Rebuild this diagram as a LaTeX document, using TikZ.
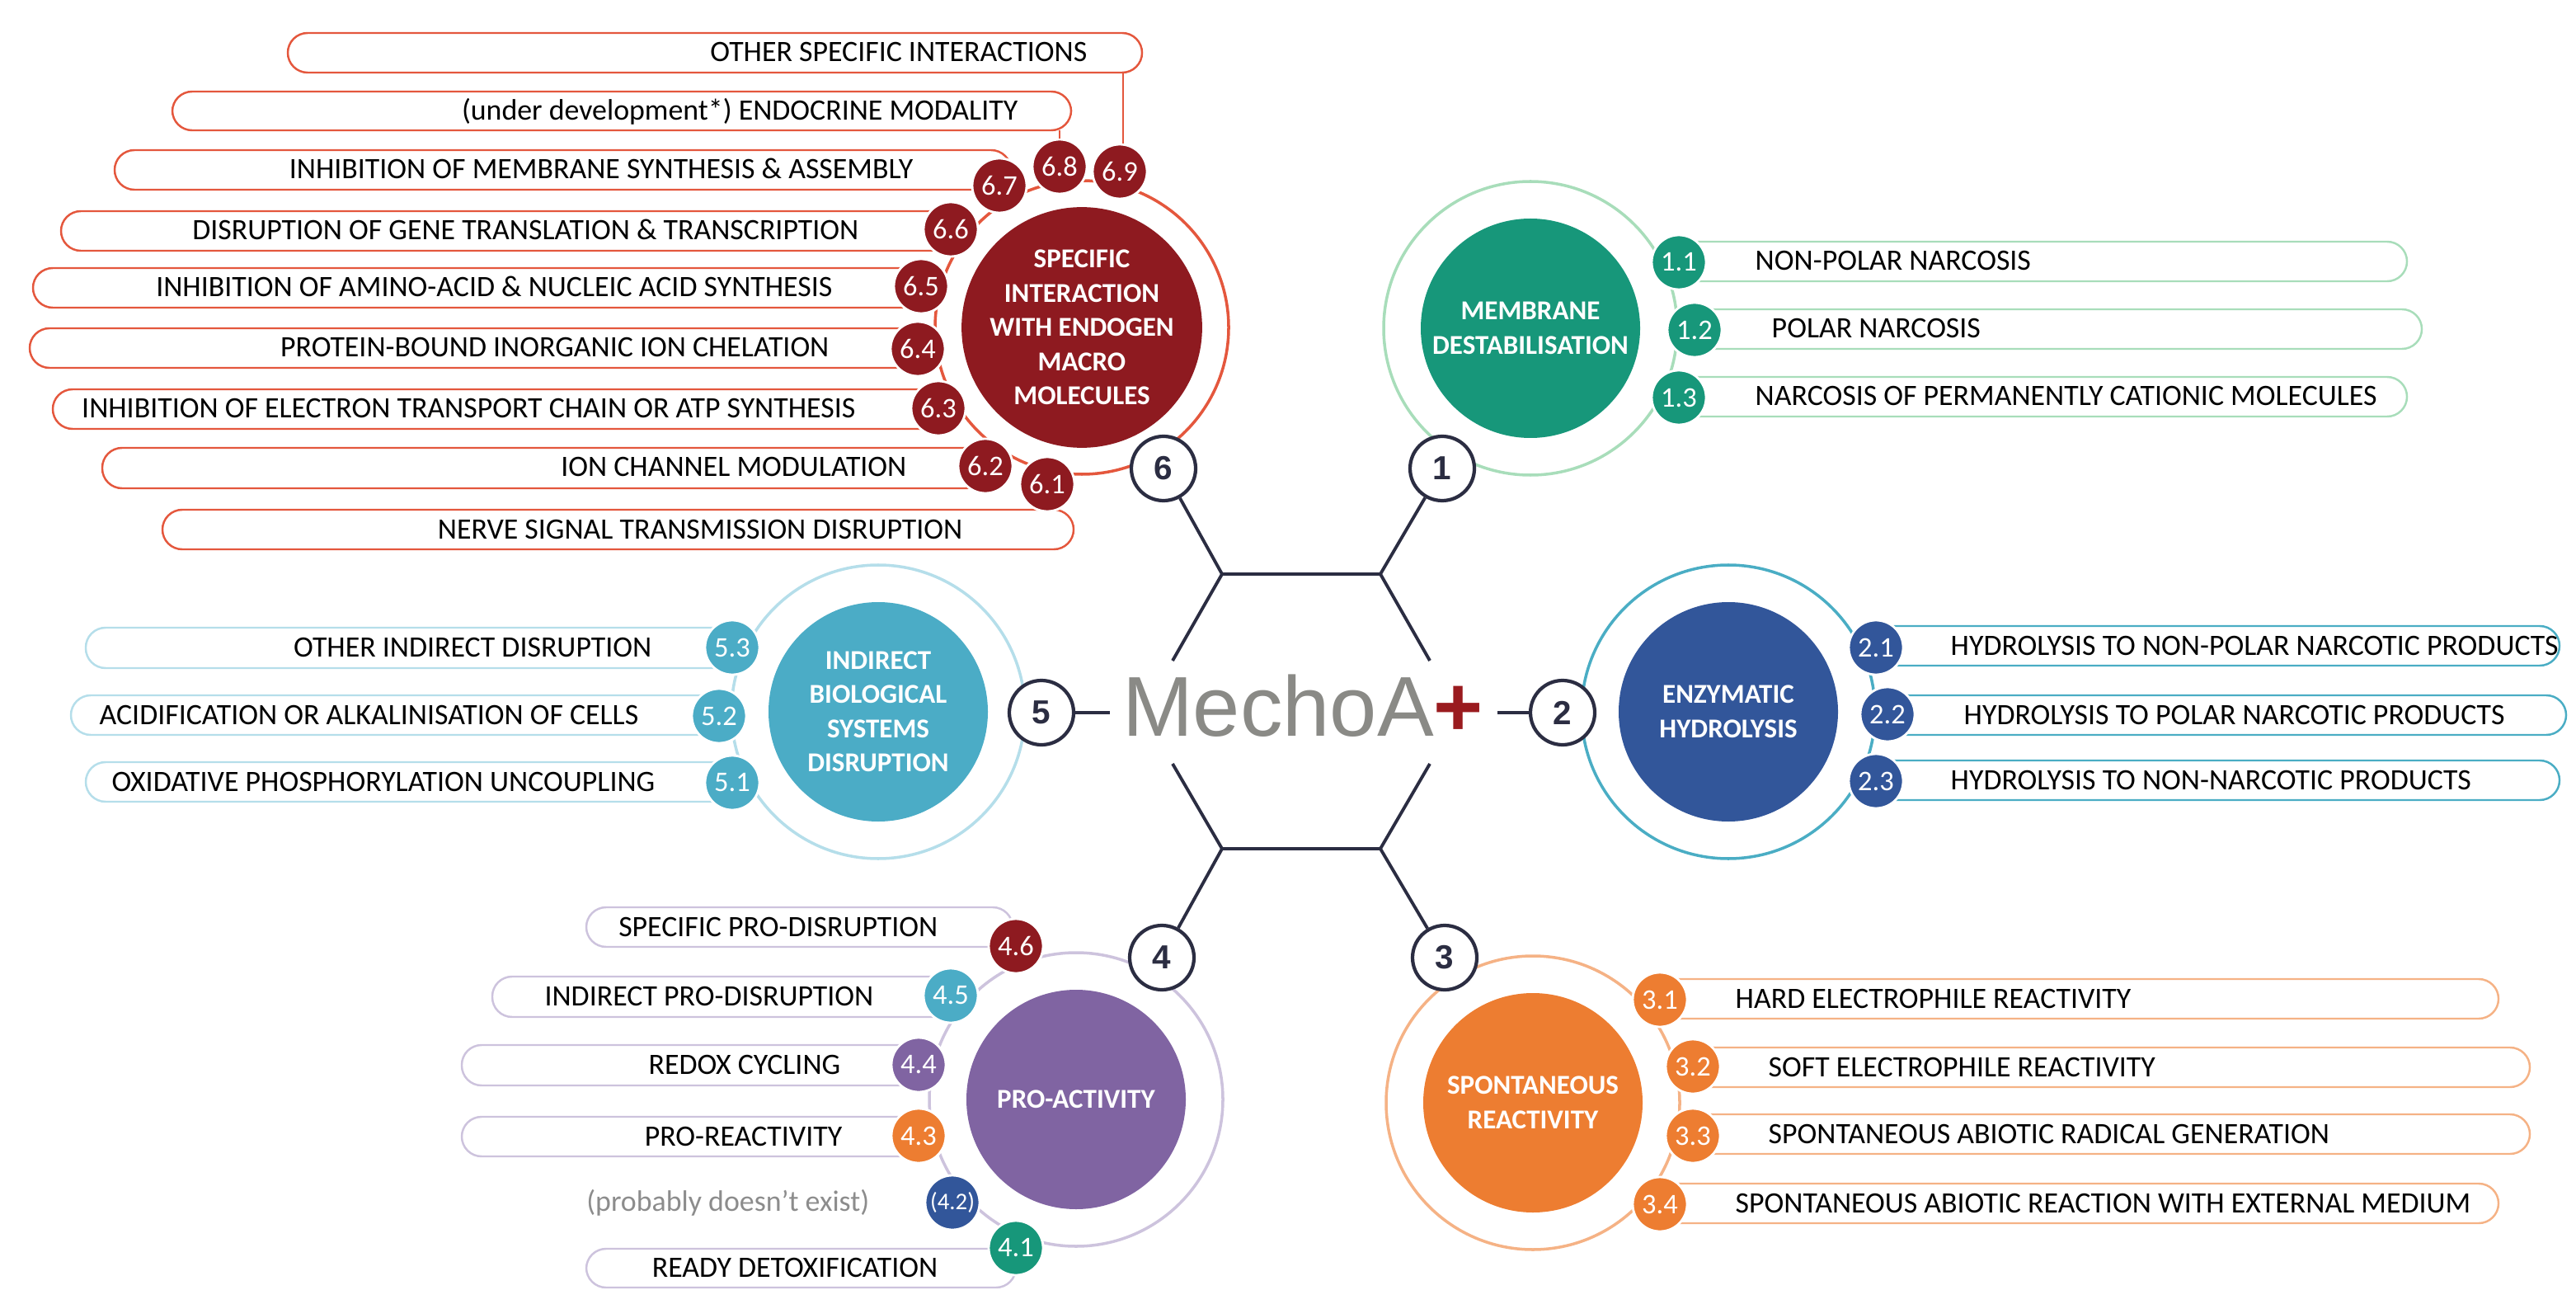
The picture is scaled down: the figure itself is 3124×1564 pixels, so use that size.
\documentclass[tikz,border=0pt]{standalone}
\usepackage{fontspec}
\setmainfont{Carlito}
\newfontfamily\logofont{Liberation Sans}

\definecolor{navy}{HTML}{2B2D42}
\definecolor{redA}{HTML}{8E1A20}
\definecolor{redR}{HTML}{E4573D}
\definecolor{grnA}{HTML}{17977A}
\definecolor{grnR}{HTML}{A8DDBA}
\definecolor{bluA}{HTML}{32569A}
\definecolor{bluR}{HTML}{4AADC4}
\definecolor{orA}{HTML}{ED7D31}
\definecolor{orR}{HTML}{F5B285}
\definecolor{puA}{HTML}{8064A2}
\definecolor{puR}{HTML}{CDC3DD}
\definecolor{tqA}{HTML}{4BACC6}
\definecolor{tqR}{HTML}{B5DEEA}
\definecolor{logogray}{HTML}{8A8A86}
\definecolor{logored}{HTML}{9A1B1F}

\begin{document}
\begin{tikzpicture}[x=0.1mm,y=-0.1mm,
    cat/.style={circle,minimum size=26.6mm,inner sep=0,text=white,align=center,
      font=\bfseries\fontsize{9.4}{11.8}\selectfont},
    ring/.style={line width=1pt},
    pill/.style={fill=white,rounded corners=2.4mm,line width=0.7pt},
    badge/.style={circle,minimum size=6.6mm,inner sep=0,draw=white,line width=0.8pt,
      text=white,font=\fontsize{9.8}{11}\selectfont},
    num/.style={circle,minimum size=7.8mm,inner sep=0,draw=navy,line width=1.2pt,
      fill=white,text=navy,font=\logofont\bfseries\fontsize{11.5}{12}\selectfont},
    lbl/.style={inner sep=0,font=\fontsize{10.2}{12}\selectfont},
    hub/.style={draw=navy,line width=1.1pt}]
    \useasboundingbox (0,0) rectangle (3124,1564);
    \def\pill#1#2#3#4#5{\draw[pill,draw=#1] (#2,#3) rectangle (#4,#5);}

    % centres of the six families
    \coordinate (o1) at (1856,398);
    \coordinate (o2) at (2096,863);
    \coordinate (o3) at (1859,1337);
    \coordinate (o4) at (1305,1333);
    \coordinate (o5) at (1065,863);
    \coordinate (o6) at (1312,397);
    \draw[ring,grnR] (o1) circle (17.8mm);
    \draw[ring,bluR] (o2) circle (17.8mm);
    \draw[ring,orR]  (o3) circle (17.8mm);
    \draw[ring,puR]  (o4) circle (17.8mm);
    \draw[ring,tqR]  (o5) circle (17.8mm);
    \draw[ring,redR] (o6) circle (17.8mm);

    % label pills
    \pill{grnR}{2036}{293}{2919}{341}
    \pill{grnR}{2055}{375}{2937}{423}
    \pill{grnR}{2036}{457}{2919}{505}
    \pill{bluR}{2275}{759}{3104}{807}
    \pill{bluR}{2289}{843}{3112}{891}
    \pill{bluR}{2275}{922}{3104}{970}
    \pill{orR}{2013}{1187}{3030}{1235}
    \pill{orR}{2053}{1270}{3068}{1318}
    \pill{orR}{2053}{1351}{3068}{1399}
    \pill{orR}{2013}{1435}{3030}{1483}
    \pill{tqR}{104}{761}{888}{810}
    \pill{tqR}{86}{843}{872}{891}
    \pill{tqR}{104}{924}{888}{972}
    \pill{redR}{349}{40}{1385}{88}
    \pill{redR}{209}{111}{1299}{158}
    \pill{redR}{139}{182}{1226}{230}
    \pill{redR}{74}{256}{1153}{304}
    \pill{redR}{40}{325}{1117}{373}
    \pill{redR}{36}{398}{1113}{446}
    \pill{redR}{64}{472}{1138}{520}
    \pill{redR}{124}{543}{1195}{592}
    \pill{redR}{197}{618}{1302}{666}
    \pill{puR}{711}{1100}{1228}{1148}
    \pill{puR}{597}{1184}{1153}{1233}
    \pill{puR}{560}{1267}{1114}{1316}
    \pill{puR}{560}{1354}{1114}{1402}
    \pill{puR}{711}{1514}{1232}{1561}

    % family discs
    \node[cat,fill=grnA] (c1) at (o1) {MEMBRANE\\DESTABILISATION};
    \node[cat,fill=bluA] (c2) at (o2) {ENZYMATIC\\HYDROLYSIS};
    \node[cat,fill=orA]  (c3) at (o3) {SPONTANEOUS\\REACTIVITY};
    \node[cat,fill=puA]  (c4) at (o4) {PRO-ACTIVITY};
    \node[cat,fill=tqA]  (c5) at (o5) {INDIRECT\\BIOLOGICAL\\SYSTEMS\\DISRUPTION};
    \node[cat,fill=redA] (c6) at (o6) {SPECIFIC\\INTERACTION\\WITH ENDOGEN\\MACRO\\MOLECULES};

    % numbered badges
    \node[badge,fill=grnA] (b11) at (2036,318) {1.1};
    \node[badge,fill=grnA] (b12) at (2055,400) {1.2};
    \node[badge,fill=grnA] (b13) at (2036,482) {1.3};
    \node[badge,fill=bluA] (b21) at (2275,785) {2.1};
    \node[badge,fill=bluA] (b22) at (2289,866) {2.2};
    \node[badge,fill=bluA] (b23) at (2275,947) {2.3};
    \node[badge,fill=orA] (b31) at (2013,1212) {3.1};
    \node[badge,fill=orA] (b32) at (2053,1293) {3.2};
    \node[badge,fill=orA] (b33) at (2053,1377) {3.3};
    \node[badge,fill=orA] (b34) at (2013,1460) {3.4};
    \node[badge,fill=redA] (b46) at (1232,1147) {4.6};
    \node[badge,fill=tqA]  (b45) at (1153,1207) {4.5};
    \node[badge,fill=puA]  (b44) at (1114,1291) {4.4};
    \node[badge,fill=orA]  (b43) at (1114,1377) {4.3};
    \node[badge,fill=bluA,font=\fontsize{8.2}{10}\selectfont] (b42) at (1155,1458) {(4.2)};
    \node[badge,fill=grnA] (b41) at (1232,1513) {4.1};
    \node[badge,fill=tqA] (b53) at (888,785) {5.3};
    \node[badge,fill=tqA] (b52) at (872,868) {5.2};
    \node[badge,fill=tqA] (b51) at (888,949) {5.1};
    \node[badge,fill=redA] (b61) at (1270,587) {6.1};
    \node[badge,fill=redA] (b62) at (1195,565) {6.2};
    \node[badge,fill=redA] (b63) at (1138,495) {6.3};
    \node[badge,fill=redA] (b64) at (1113,423) {6.4};
    \node[badge,fill=redA] (b65) at (1117,347) {6.5};
    \node[badge,fill=redA] (b66) at (1153,278) {6.6};
    \node[badge,fill=redA] (b67) at (1212,225) {6.7};
    \node[badge,fill=redA] (b68) at (1285,202) {6.8};
    \node[badge,fill=redA] (b69) at (1358,208) {6.9};
    \coordinate (k68) at (1285,158);
    \coordinate (k69) at (1362,88);
    \draw[redR,line width=0.6pt] (k68) -- (k68 |- b68.north);
    \draw[redR,line width=0.6pt] (k69) -- (k69 |- b69.north);

    % texts of the pills
    \node[lbl,anchor=base west] (t11) at (2128,328) {NON-POLAR NARCOSIS};
    \node[lbl,anchor=base west] (t12) at (2148,410) {POLAR NARCOSIS};
    \node[lbl,anchor=base west] (t13) at (2128,492) {NARCOSIS OF PERMANENTLY CATIONIC MOLECULES};
    \node[lbl,anchor=base west] (t21) at (2365,794) {HYDROLYSIS TO NON-POLAR NARCOTIC PRODUCTS};
    \node[lbl,anchor=base west] (t22) at (2381,878) {HYDROLYSIS TO POLAR NARCOTIC PRODUCTS};
    \node[lbl,anchor=base west] (t23) at (2365,957) {HYDROLYSIS TO NON-NARCOTIC PRODUCTS};
    \node[lbl,anchor=base west] (t31) at (2104,1222) {HARD ELECTROPHILE REACTIVITY};
    \node[lbl,anchor=base west] (t32) at (2144,1305) {SOFT ELECTROPHILE REACTIVITY};
    \node[lbl,anchor=base west] (t33) at (2144,1386) {SPONTANEOUS ABIOTIC RADICAL GENERATION};
    \node[lbl,anchor=base west] (t34) at (2104,1470) {SPONTANEOUS ABIOTIC REACTION WITH EXTERNAL MEDIUM};
    \node[lbl,anchor=base east] (t53) at (791,796) {OTHER INDIRECT DISRUPTION};
    \node[lbl,anchor=base east] (t52) at (775,878) {ACIDIFICATION OR ALKALINISATION OF CELLS};
    \node[lbl,anchor=base east] (t51) at (795,959) {OXIDATIVE PHOSPHORYLATION UNCOUPLING};
    \node[lbl,anchor=base east] (t69) at (1319,75) {OTHER SPECIFIC INTERACTIONS};
    \node[lbl,anchor=base east] (t68) at (1235,146) {(under development*) ENDOCRINE MODALITY};
    \node[lbl,anchor=base east] (t67) at (1108,217) {INHIBITION OF MEMBRANE SYNTHESIS \& ASSEMBLY};
    \node[lbl,anchor=base east] (t66) at (1042,291) {DISRUPTION OF GENE TRANSLATION \& TRANSCRIPTION};
    \node[lbl,anchor=base east] (t65) at (1010,360) {INHIBITION OF AMINO-ACID \& NUCLEIC ACID SYNTHESIS};
    \node[lbl,anchor=base east] (t64) at (1006,433) {PROTEIN-BOUND INORGANIC ION CHELATION};
    \node[lbl,anchor=base east] (t63) at (1038,507) {INHIBITION OF ELECTRON TRANSPORT CHAIN OR ATP SYNTHESIS};
    \node[lbl,anchor=base east] (t62) at (1100,578) {ION CHANNEL MODULATION};
    \node[lbl,anchor=base east] (t61) at (1168,653) {NERVE SIGNAL TRANSMISSION DISRUPTION};
    \node[lbl,anchor=base east] (t46) at (1138,1135) {SPECIFIC PRO-DISRUPTION};
    \node[lbl,anchor=base east] (t45) at (1060,1219) {INDIRECT PRO-DISRUPTION};
    \node[lbl,anchor=base east] (t44) at (1020,1302) {REDOX CYCLING};
    \node[lbl,anchor=base east] (t43) at (1022,1389) {PRO-REACTIVITY};
    \node[lbl,anchor=base east,text=black!45] (t42) at (1055,1468) {(probably doesn’t exist)};
    \node[lbl,anchor=base east] (t41) at (1138,1548) {READY DETOXIFICATION};

    % hexagon hub
    \coordinate (h1) at (1674,696);
    \coordinate (h6) at (1482,696);
    \coordinate (h3) at (1674,1029);
    \coordinate (h4) at (1482,1029);
    \coordinate (s1) at (1734,801);
    \coordinate (s6) at (1422,801);
    \coordinate (s3) at (1734,926);
    \coordinate (s4) at (1422,926);
    \coordinate (s2) at (1816,864);
    \coordinate (s5) at (1346,864);
    \node[num] (n1) at (1749,568) {1};
    \node[num] (n2) at (1895,864) {2};
    \node[num] (n3) at (1752,1161) {3};
    \node[num] (n4) at (1409,1161) {4};
    \node[num] (n5) at (1263,864) {5};
    \node[num] (n6) at (1411,568) {6};
    \draw[hub] (s6) -- (h6) -- (h1) -- (s1);
    \draw[hub] (s4) -- (h4) -- (h3) -- (s3);
    \draw[hub] (h1) -- (n1);
    \draw[hub] (h6) -- (n6);
    \draw[hub] (h3) -- (n3);
    \draw[hub] (h4) -- (n4);
    \draw[hub] (s2) -- (n2);
    \draw[hub] (s5) -- (n5);
    \node[inner sep=0,anchor=base,text=logogray,font=\logofont\fontsize{29.3}{30}\selectfont]
      (logo) at (1580,892) {MechoA\textcolor{logored}{\bfseries +}};
\end{tikzpicture}
\end{document}
